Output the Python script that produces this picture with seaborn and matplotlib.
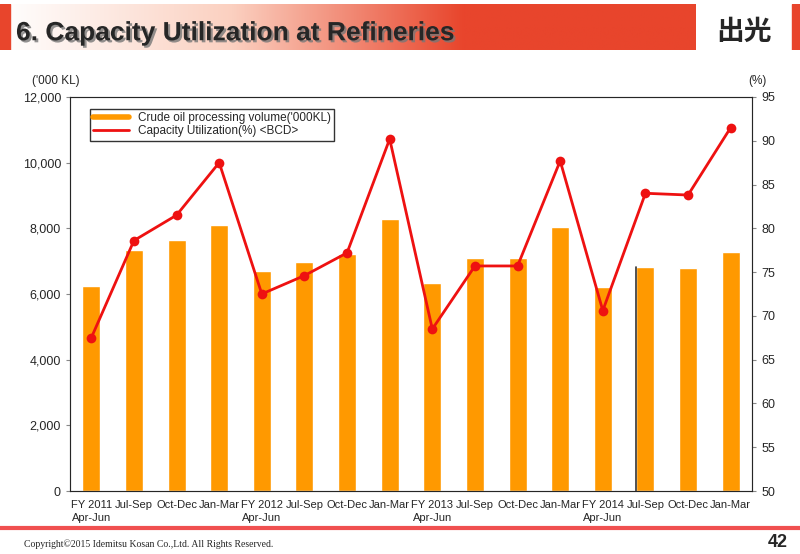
import numpy as np
import pandas as pd
import matplotlib
matplotlib.use("Agg")
import matplotlib.pyplot as plt
import matplotlib.patheffects as pe
import seaborn as sns
from matplotlib.colors import LinearSegmentedColormap
from matplotlib.lines import Line2D

quarters = ["FY 2011\nApr-Jun", "Jul-Sep", "Oct-Dec", "Jan-Mar",
            "FY 2012\nApr-Jun", "Jul-Sep", "Oct-Dec", "Jan-Mar",
            "FY 2013\nApr-Jun", "Jul-Sep", "Oct-Dec", "Jan-Mar",
            "FY 2014\nApr-Jun", "Jul-Sep", "Oct-Dec", "Jan-Mar"]
volume = [6240, 7340, 7645, 8100, 6700, 6975, 7220, 8285,
          6335, 7095, 7095, 8040, 6210, 6820, 6790, 7280]
utilization = [67.5, 78.6, 81.5, 87.5, 72.5, 74.6, 77.2, 90.2,
               68.5, 75.7, 75.7, 87.7, 70.6, 84.0, 83.8, 91.5]

sns.set_style("white")
plt.rcParams['font.family'] = ['Liberation Sans', 'Noto Sans CJK JP', 'DejaVu Sans']

df = pd.DataFrame({"q": range(len(quarters)), "vol": volume, "util": utilization})

fig = plt.figure(figsize=(8, 5.54), dpi=100)

# header band
hdr = fig.add_axes([0, 1 - 50 / 554, 1, 46 / 554])
grad = np.linspace(0, 1, 256).reshape(1, -1)
cmap = LinearSegmentedColormap.from_list("hdr", ["#ffffff", "#fbd0c0", "#e8452c", "#e8452c"])
hdr.imshow(grad, aspect="auto", cmap=cmap, extent=[0, 0.87, 0, 1])
hdr.set_xlim(0, 1)
hdr.set_ylim(0, 1)
hdr.axvspan(0, 0.012, color="#e8452c")
hdr.axvspan(0.99, 1, color="#e8452c")
hdr.axis("off")
fig.text(0.02, 0.94, "6. Capacity Utilization at Refineries", fontsize=19,
         fontweight="bold", va="center",
         path_effects=[pe.withSimplePatchShadow(offset=(1.5, -1.5), shadow_rgbFace="#777777", alpha=0.8)])
fig.text(0.965, 0.94, "出光", fontsize=20, fontweight="bold", ha="right", va="center")

ax = fig.add_axes([0.0875, 0.1137, 0.8525, 0.7113])
sns.barplot(data=df, x="q", y="vol", color="#ff9900", width=0.42, ax=ax, saturation=1)
ax.set_ylim(0, 12000)
ax.set_yticks(range(0, 12001, 2000))
ax.set_yticklabels([f"{v:,}" for v in range(0, 12001, 2000)], fontsize=9)
ax.set_xticks(range(len(quarters)))
ax.set_xticklabels(quarters, fontsize=8, linespacing=1.4)
ax.set_xlim(-0.5, len(quarters) - 0.5)
ax.set_xlabel("")
ax.set_ylabel("")
# dark edge on the Jul-Sep FY2014 bar
ax.plot([13 - 0.21, 13 - 0.21], [0, volume[13]], color="#333333", lw=1.2)
for s in ax.spines.values():
    s.set_color("#888888")
ax.tick_params(axis="both", length=3, color="#888888")

ax2 = ax.twinx()
sns.lineplot(data=df, x="q", y="util", color="#ee1111", lw=2, marker="o",
             markersize=7, markeredgewidth=0, ax=ax2)
ax2.set_ylim(50, 95)
ax2.set_yticks(range(50, 96, 5))
ax2.tick_params(labelsize=9, length=3, color="#888888")
ax2.set_ylabel("")
ax2.set_xlim(-0.5, len(quarters) - 0.5)

handles = [Line2D([], [], color="#ff9900", lw=4), Line2D([], [], color="#ee1111", lw=2)]
labels = ["Crude oil processing volume('000KL)", "Capacity Utilization(%) <BCD>"]
leg = ax2.legend(handles, labels, loc="upper left", bbox_to_anchor=(0.02, 0.985),
                 fontsize=8.5, frameon=True, fancybox=False, edgecolor="black",
                 handlelength=3, borderpad=0.3, labelspacing=0.1)
leg.get_frame().set_linewidth(1)

fig.text(0.04, 0.848, "('000 KL)", fontsize=8.5)
fig.text(0.935, 0.848, "(%)", fontsize=8.5)

fig.add_artist(plt.Line2D([0, 1], [0.047, 0.047], color="#f05050", lw=3))
fig.text(0.03, 0.012, "Copyright©2015 Idemitsu Kosan Co.,Ltd. All Rights Reserved.",
         fontsize=7, family=["Liberation Serif"])
fig.text(0.985, 0.012, "42", fontsize=13, fontweight="bold", ha="right")

fig.savefig("out.png", dpi=100)
